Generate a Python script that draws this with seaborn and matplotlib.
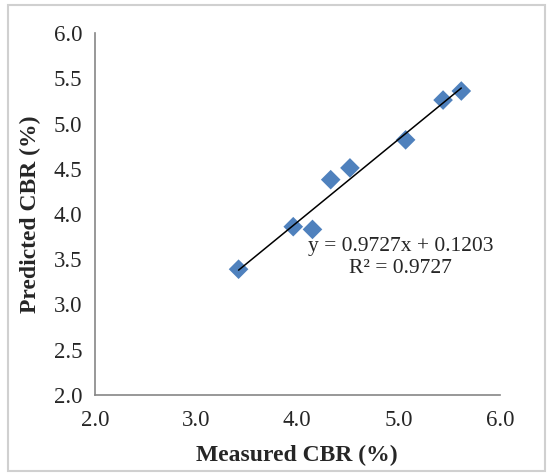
import matplotlib
matplotlib.use("Agg")
import matplotlib.pyplot as plt
import seaborn as sns
import pandas as pd
from matplotlib.patches import Rectangle

measured = [3.42, 3.96, 4.15, 4.33, 4.52, 5.07, 5.44, 5.62]
predicted = [3.39, 3.86, 3.83, 4.38, 4.51, 4.82, 5.26, 5.36]
ticks = [2.0, 3.0, 4.0, 5.0, 6.0]
yticks = [2.0, 2.5, 3.0, 3.5, 4.0, 4.5, 5.0, 5.5, 6.0]
equation = "y = 0.9727x + 0.1203\nR² = 0.9727"

sns.set_style("white")
plt.rcParams['font.family'] = ['Liberation Serif', 'DejaVu Serif']

df = pd.DataFrame({"measured": measured, "predicted": predicted})

fig = plt.figure(figsize=(5.48, 4.73), dpi=100)
ax = fig.add_axes([0.173, 0.165, 0.739, 0.765])

sns.regplot(data=df, x="measured", y="predicted", ax=ax, ci=None,
            marker="D", color="#4F81BD",
            scatter_kws={"s": 100, "edgecolor": "none", "alpha": 1, "zorder": 2},
            line_kws={"color": "black", "linewidth": 1.1, "zorder": 3})

ax.set_xlim(2.0, 6.0)
ax.set_ylim(2.0, 6.0)
ax.set_xticks(ticks)
ax.set_yticks(yticks)
ax.set_xticklabels([f"{t:.1f}" for t in ticks])
ax.set_yticklabels([f"{t:.1f}" for t in yticks])
ax.tick_params(axis="x", direction="in", length=5, color="#868686",
               labelsize=16.5, pad=11)
ax.tick_params(axis="y", direction="out", length=5, color="#868686",
               labelsize=16.5, pad=4)
for side in ["top", "right"]:
    ax.spines[side].set_visible(False)
for side in ["left", "bottom"]:
    ax.spines[side].set_color("#868686")
    ax.spines[side].set_linewidth(1.2)

ax.set_xlabel("Measured CBR (%)", fontsize=17, fontweight="bold", labelpad=10)
ax.set_ylabel("Predicted CBR (%)", fontsize=17, fontweight="bold", labelpad=9)

ax.text(5.02, 3.52, equation, ha="center", va="center", fontsize=15.5,
        linespacing=1.25)

fig.patches.append(Rectangle((0.015, 0.005), 0.98, 0.985, transform=fig.transFigure,
                             fill=False, edgecolor="#D0D0D0", linewidth=1.5))

fig.savefig("out.png", dpi=100)
